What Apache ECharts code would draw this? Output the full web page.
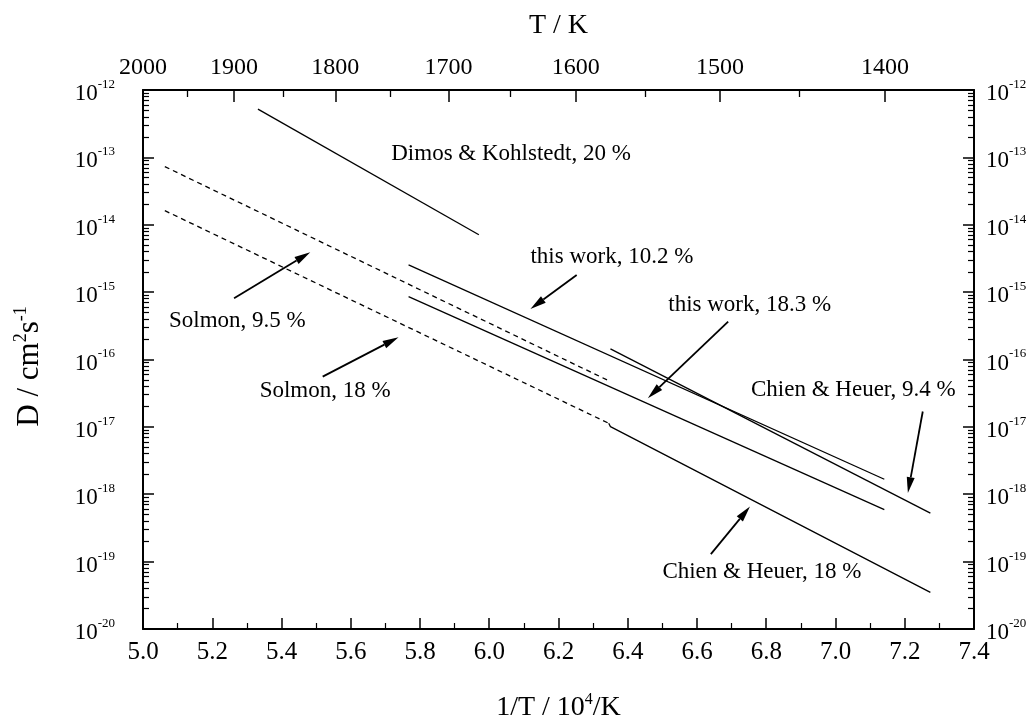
<!DOCTYPE html>
<html>
<head>
<meta charset="utf-8">
<script src="https://cdn.jsdelivr.net/npm/echarts@6/dist/echarts.min.js"></script>
<style>
  html, body { margin: 0; padding: 0; background: #fff; }
  #chart { width: 1029px; height: 721px; }
</style>
</head>
<body>
<div id="chart"></div>
<script>
// x = 10^4 / T (1/K), y = D (cm^2 s^-1)
const dimos20  = [[5.332, 5.2e-13], [5.970, 7.1e-15]];
const solmon95 = [[5.063, 7.3e-14], [6.350, 4.7e-17]];
const solmon18 = [[5.063, 1.62e-14], [6.345, 1.13e-17]];
const chien18  = [[6.345, 1.13e-17], [6.350, 1.01e-17], [7.274, 3.5e-20]];
const work102  = [[5.767, 2.54e-15], [7.141, 1.67e-18]];
const work183  = [[5.767, 8.6e-16], [7.141, 5.9e-19]];
const chien94  = [[6.350, 1.44e-16], [7.274, 5.25e-19]];

// tick values
const decades = [1e-20, 1e-19, 1e-18, 1e-17, 1e-16, 1e-15, 1e-14, 1e-13, 1e-12];
const topT = [2000, 1900, 1800, 1700, 1600, 1500, 1400];
const topMinorT = [1950, 1850, 1750, 1650, 1550, 1450];

// annotation text (left edge, middle) and arrows (tail -> head), in data units
const labelTexts = ['Dimos & Kohlstedt, 20 %', 'this work, 10.2 %', 'this work, 18.3 %',
  'Chien & Heuer, 9.4 %', 'Chien & Heuer, 18 %', 'Solmon, 9.5 %', 'Solmon, 18 %'];
const labelX = [5.717, 6.119, 6.517, 6.756, 6.500, 5.075, 5.337];
const labelY = [1.12e-13, 3.33e-15, 6.46e-16, 3.54e-17, 7.13e-20, 3.74e-16, 3.42e-17];
const arrows = [
  [5.263, 8.11e-16, 5.483, 3.91e-15],
  [5.519, 5.57e-17, 5.738, 2.14e-16],
  [6.2525, 1.80e-15, 6.119, 5.64e-16],
  [6.690, 3.65e-16, 6.458, 2.67e-17],
  [7.252, 1.69e-17, 7.209, 1.04e-18],
  [6.640, 1.29e-19, 6.753, 6.58e-19]
];

const minorDecades = [];
decades.slice(0, -1).forEach(d => {
  for (let k = 2; k <= 9; k++) minorDecades.push(+(k * d).toPrecision(3));
});

const FONT = 'Liberation Serif';
const black = '#000';
const supRich = {
  b: { fontFamily: FONT, fontSize: 23, color: black, padding: [8, 0, 0, 0] },
  s: { fontFamily: FONT, fontSize: 13, color: black, padding: [0, 0, 11, 0] }
};
const expLabel = v => '{b|10}{s|' + Math.round(Math.log10(v)) + '}';

function logAxis(pos, showLabel) {
  return {
    type: 'log', logBase: 10, position: pos, min: 1e-20, max: 1e-12,
    axisLine: { show: true, lineStyle: { color: black, width: 2 } },
    axisTick: { show: true, inside: true, length: 11, lineStyle: { color: black, width: 1.5 }, customValues: decades },
    axisLabel: {
      show: showLabel, customValues: decades, formatter: expLabel, rich: supRich,
      margin: pos === 'left' ? 28 : 12
    },
    splitLine: { show: false }
  };
}
function minorLogAxis(pos) {
  return {
    type: 'log', logBase: 10, position: pos, min: 1e-20, max: 1e-12,
    axisLine: { show: false },
    axisTick: { show: true, inside: true, length: 6, lineStyle: { color: black, width: 1.2 }, customValues: minorDecades },
    axisLabel: { show: false },
    splitLine: { show: false }
  };
}

const chart = echarts.init(document.getElementById('chart'));

function lineSeries(data, dashed) {
  return {
    type: 'line', xAxisIndex: 0, yAxisIndex: 0, data: data,
    showSymbol: false, symbol: 'none', silent: true,
    lineStyle: { color: black, width: 1.3, type: dashed ? [5, 4] : 'solid' }
  };
}

const option = {
  backgroundColor: '#fff',
  animation: false,
  grid: { left: 143, right: 55, top: 90, bottom: 92, containLabel: false, outerBoundsMode: 'none' },
  xAxis: [
    {
      type: 'value', position: 'bottom', min: 5, max: 7.4, interval: 0.2,
      axisLine: { lineStyle: { color: black, width: 2 } },
      axisTick: { inside: true, length: 11, lineStyle: { color: black, width: 1.5 } },
      minorTick: { show: true, splitNumber: 2, length: 6, lineStyle: { color: black, width: 1.2 } },
      axisLabel: { color: black, fontFamily: FONT, fontSize: 25, margin: 11, formatter: v => v.toFixed(1) },
      splitLine: { show: false },
      name: '{t|1/T / 10}{s|4}{t|/K}', nameLocation: 'middle', nameGap: 63,
      nameTextStyle: {
        rich: {
          t: { fontFamily: FONT, fontSize: 28, color: black },
          s: { fontFamily: FONT, fontSize: 16, color: black, padding: [0, 0, 15, 0] }
        }
      }
    },
    {
      type: 'value', position: 'top', min: 5, max: 7.4,
      axisLine: { lineStyle: { color: black, width: 2 } },
      axisTick: { inside: true, length: 12, lineStyle: { color: black, width: 1.5 }, customValues: topT.map(t => 1e4 / t) },
      axisLabel: {
        color: black, fontFamily: FONT, fontSize: 24, margin: 10,
        customValues: topT.map(t => 1e4 / t), formatter: v => String(Math.round(1e4 / v))
      },
      splitLine: { show: false },
      name: 'T / K', nameLocation: 'middle', nameGap: 50,
      nameTextStyle: { fontFamily: FONT, fontSize: 28, color: black }
    },
    {
      type: 'value', position: 'top', min: 5, max: 7.4,
      axisLine: { show: false },
      axisTick: { inside: true, length: 7, lineStyle: { color: black, width: 1.3 }, customValues: topMinorT.map(t => 1e4 / t) },
      axisLabel: { show: false },
      splitLine: { show: false }
    }
  ],
  yAxis: [
    Object.assign(logAxis('left', true), {
      name: '{t|D / cm}{s|2}{t|s}{e|-1}', nameLocation: 'middle', nameGap: 96, nameRotate: 90,
      nameTextStyle: {
        rich: {
          t: { fontFamily: FONT, fontSize: 31, color: black },
          s: { fontFamily: FONT, fontSize: 18, color: black, padding: [0, 0, 17, 0] },
          e: { fontFamily: FONT, fontSize: 18, color: black, padding: [0, 14, 17, 0] }
        }
      }
    }),
    logAxis('right', true),
    minorLogAxis('left'),
    minorLogAxis('right')
  ],
  series: [
    lineSeries(dimos20, false),
    lineSeries(solmon95, true),
    lineSeries(solmon18, true),
    lineSeries(chien18, false),
    lineSeries(work102, false),
    lineSeries(work183, false),
    lineSeries(chien94, false),
    {
      type: 'custom', xAxisIndex: 0, yAxisIndex: 0, silent: true,
      data: arrows,
      encode: { x: [0, 2], y: [1, 3] },
      renderItem: function (params, api) {
        const p1 = api.coord([api.value(0), api.value(1)]);
        const p2 = api.coord([api.value(2), api.value(3)]);
        const dx = p2[0] - p1[0], dy = p2[1] - p1[1];
        const len = Math.sqrt(dx * dx + dy * dy);
        const ux = dx / len, uy = dy / len;
        const hl = 16, hw = 4;
        const bx = p2[0] - ux * hl, by = p2[1] - uy * hl;
        return {
          type: 'group',
          children: [
            { type: 'line', shape: { x1: p1[0], y1: p1[1], x2: bx, y2: by }, style: { stroke: black, lineWidth: 1.8 } },
            { type: 'polygon', shape: { points: [p2, [bx - uy * hw, by + ux * hw], [bx + uy * hw, by - ux * hw]] }, style: { fill: black } }
          ]
        };
      }
    },
    {
      type: 'custom', xAxisIndex: 0, yAxisIndex: 0, silent: true,
      data: labelX.map((x, i) => [x, labelY[i]]),
      renderItem: function (params, api) {
        const p = api.coord([api.value(0), api.value(1)]);
        return {
          type: 'text', x: p[0], y: p[1],
          style: {
            text: labelTexts[params.dataIndex], fontFamily: FONT, fontSize: 23,
            fill: black, align: 'left', verticalAlign: 'middle'
          }
        };
      }
    }
  ]
};
chart.setOption(option);
</script>
</body>
</html>
